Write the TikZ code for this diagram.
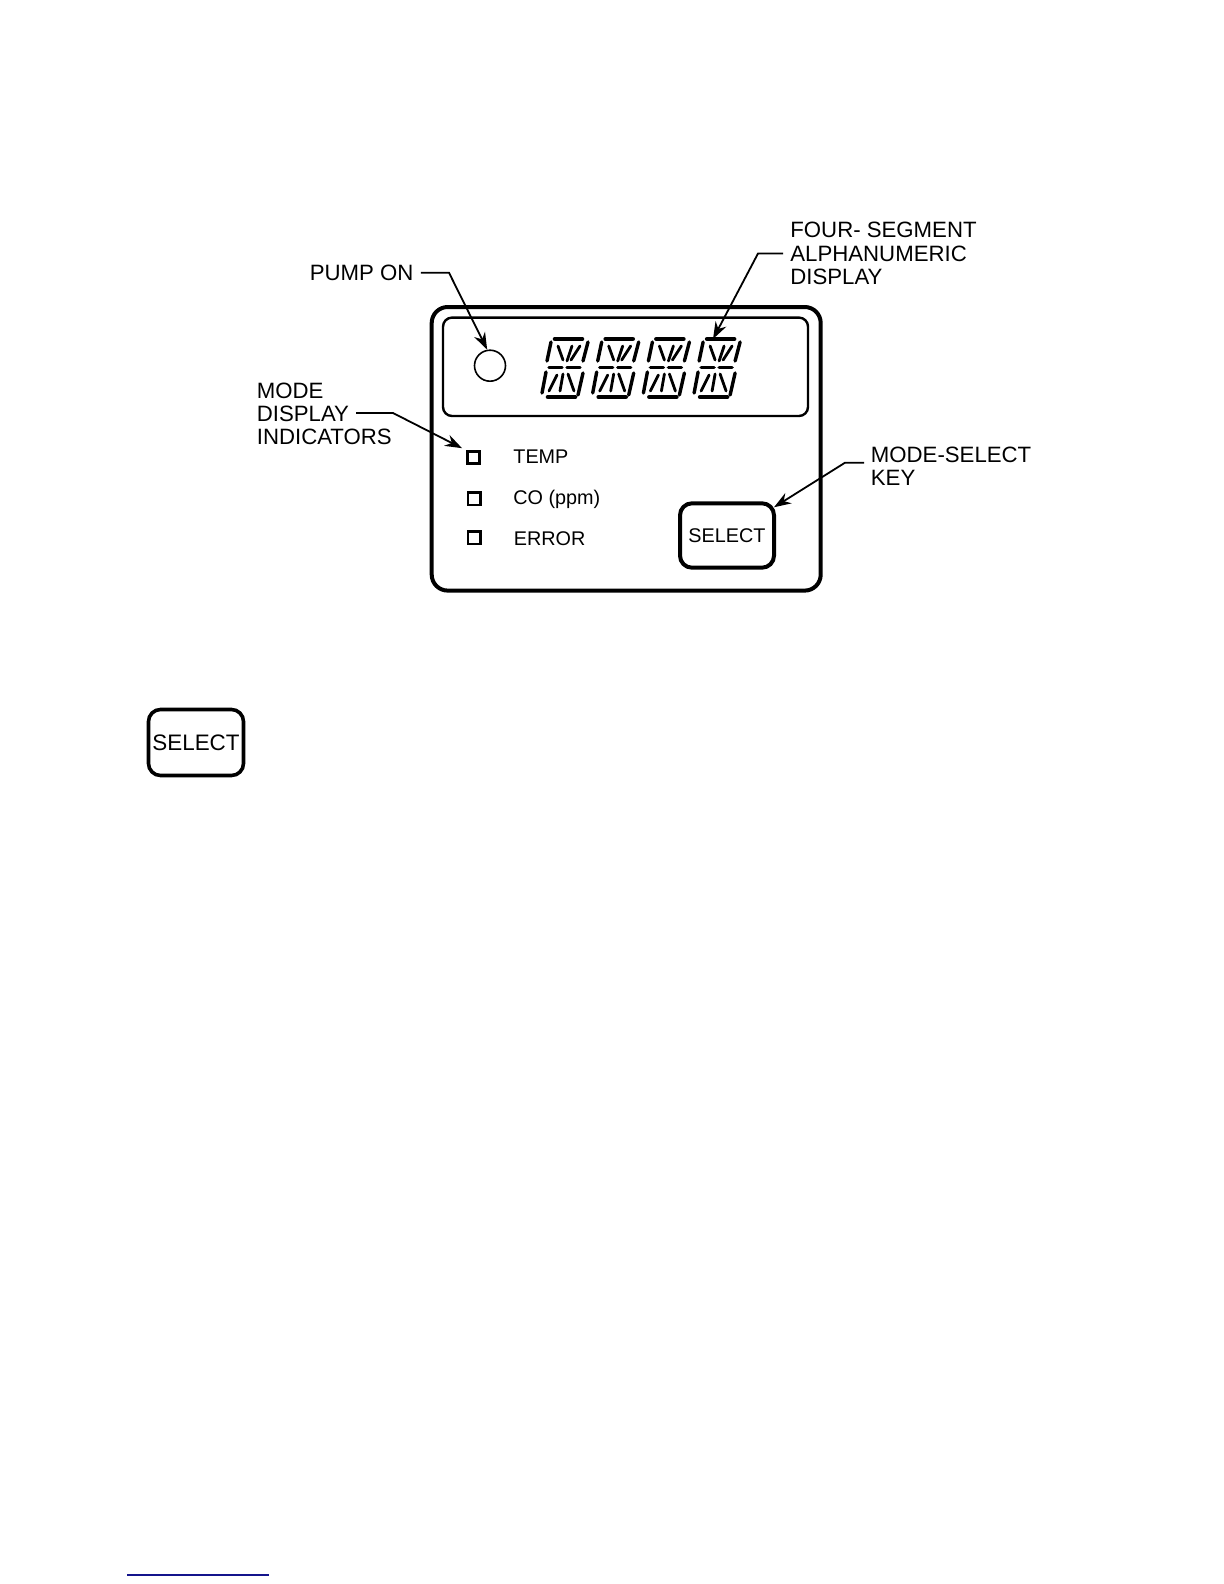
\documentclass[tikz,border=0pt]{standalone}
\usepackage{fontspec}
\setmainfont{Liberation Sans}
\usepackage{xcolor}
\usetikzlibrary{arrows.meta}
\definecolor{rulenavy}{HTML}{14148C}
\tikzset{
  callout/.style={inner sep=0pt,align=left,anchor=west,font=\fontsize{11.1}{11.6}\selectfont},
  small/.style={inner sep=0pt,anchor=west,font=\fontsize{9.9}{11}\selectfont},
  leader/.style={-{Stealth[length=8.5pt,width=6pt]},line width=0.9pt,shorten <=3.5pt},
  panel/.style={draw,line width=2pt,rounded corners=8pt,inner sep=0pt},
  window/.style={draw,line width=1.2pt,rounded corners=4.5pt,inner sep=0pt},
  keybox/.style={draw,line width=2pt,rounded corners=6pt,inner sep=0pt,outer sep=0pt},
  lamp/.style={draw,line width=1.2pt,minimum size=6.2pt,inner sep=0pt},
  seg/.style={line width=1.7pt,line cap=round},
  thinseg/.style={line width=1.4pt,line cap=round},
  bar/.style={line width=2.3pt,line cap=round}
}
\begin{document}
\begin{tikzpicture}[x=0.5pt,y=-0.5pt]
\useasboundingbox (0,0) rectangle (1224,1584);
\node[panel,minimum width=194.5pt,minimum height=141.8pt] (case) at (626.2,448.8) {};
\node[window,minimum width=182.5pt,minimum height=49.2pt] (lcd) at (625.5,366.8) {};
\node[draw,circle,line width=0.8pt,minimum size=15.5pt,inner sep=0pt] (pumpled) at (490,365.7) {};
% the four display characters
\foreach \i in {0,1,2,3} {
  \begin{scope}[shift={(520+50.7*\i,320)}]
    \draw[bar] (35,19)--(62,19) (28,77)--(55,77);
    \draw[seg] (29,47.5)--(42,47.5) (47,47.5)--(60,47.5);
    \draw[seg] (31,22)--(27,41) (68,22)--(63,41) (26,52)--(22,73) (63,53)--(58,75);
    \draw[thinseg] (38,26)--(43,40) (52,26)--(47,41) (60,26)--(51,40);
    \draw[thinseg] (37,55)--(29,71) (43,54)--(40,71) (48,54)--(54,71);
  \end{scope}
}
\node[lamp,line width=1.5pt] (lamptemp) at (473.3,457.7) {};
\node[lamp] (lampco) at (474.3,498.5) {};
\node[lamp] (lamperr) at (474.3,537.7) {};
\node[small] (temp) at (513,457) {TEMP};
\node[small] (co) at (513,499.5) {CO (ppm)};
\node[small] (err) at (513.5,539) {ERROR};
\node[keybox,minimum width=47pt,minimum height=32.2pt,font=\fontsize{9.9}{11}\selectfont] (selkey) at (727,535.5) {SELECT};
\node[keybox,line width=1.8pt,minimum width=47.5pt,minimum height=33pt,font=\fontsize{11.2}{12}\selectfont] (selkeytwo) at (196,742.5) {SELECT};
% labels
\node[callout] (pumplbl) at (309.5,272.7) {PUMP ON};
\node[callout] (modelbl) at (256.5,414) {MODE\\DISPLAY\\INDICATORS};
\node[callout] (keylbl) at (870.5,466.5) {MODE-SELECT\\KEY};
\node[callout] (fourlbl) at (790,253.5) {FOUR- SEGMENT\\ALPHANUMERIC\\DISPLAY};
\coordinate (modeout) at (349,413);
\coordinate (keyout) at (871,462.7);
\coordinate (segtip) at (713,339);
\draw[leader] (pumplbl.east) -- (449,272.7) -- (pumpled.100);
\draw[leader,shorten >=2pt] (modeout) -- (393,413) -- (lamptemp.north west);
\draw[leader] (keyout) -- (845,462.7) -- (selkey.31);
\draw[leader] (fourlbl.west) -- (758,253.5) -- (segtip);
\coordinate (ruleL) at (127,1575);
\coordinate (ruleR) at (269,1575);
\draw[rulenavy,line width=0.7pt] (ruleL) -- (ruleR);
\end{tikzpicture}
\end{document}
